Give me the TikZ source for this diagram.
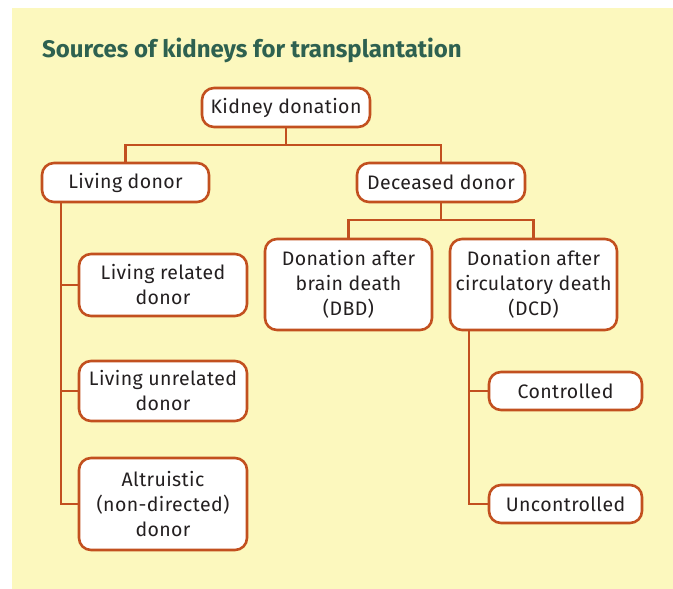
\documentclass[tikz,border=0pt]{standalone}
\usepackage{fontspec}
\setmainfont{Fira Sans}
\definecolor{bgyellow}{HTML}{FCF8BE}
\definecolor{edgeorange}{HTML}{C2501F}
\definecolor{titlegreen}{HTML}{2E6150}
\definecolor{textdark}{HTML}{231F20}
\begin{document}
\begin{tikzpicture}[x=1pt,y=-1pt,
  box/.style={draw=edgeorange, line width=2.6pt, fill=white, rounded corners=12pt,
    align=center, text=textdark, inner sep=0pt,
    font=\addfontfeatures{LetterSpace=2}\fontsize{19.5}{25}\selectfont},
  link/.style={draw=edgeorange, line width=2.6pt}]
\useasboundingbox (0,0) rectangle (673,589);
\fill[bgyellow] (12,8) rectangle (673,589);
\node[anchor=base west, text=titlegreen, font=\fontsize{24}{28}\bfseries, inner sep=0pt] (title) at (42,57) {Sources of kidneys for transplantation};
\node[box, minimum width=168pt, minimum height=39pt] (kd) at (286,107.5) {Kidney donation};
\node[box, minimum width=167pt, minimum height=39pt] (living) at (125.5,182.5) {Living donor};
\node[box, minimum width=168pt, minimum height=39pt] (deceased) at (441,182.5) {Deceased donor};
\node[box, minimum width=168pt, minimum height=62pt] (related) at (163,285) {Living related\\donor};
\node[box, minimum width=168pt, minimum height=60pt] (unrelated) at (163,391) {Living unrelated\\donor};
\node[box, minimum width=168pt, minimum height=92pt] (altruistic) at (163,504) {Altruistic\\(non-directed)\\donor};
\node[box, minimum width=167pt, minimum height=91pt] (dbd) at (348.5,284.5) {Donation after\\brain death\\(DBD)};
\node[box, minimum width=167pt, minimum height=91pt] (dcd) at (533.5,284.5) {Donation after\\circulatory death\\(DCD)};
\node[box, minimum width=153pt, minimum height=38pt] (controlled) at (565.5,391) {Controlled};
\node[box, minimum width=153pt, minimum height=38pt] (uncontrolled) at (565.5,504) {Uncontrolled};
\coordinate (j1) at (286,145);
\coordinate (j2) at (441,220);
\coordinate (lt) at (61,0);
\coordinate (rt) at (469,0);
\draw[link] (kd.south) -- (j1);
\draw[link] (living.north) |- (j1) -| (deceased.north);
\draw[link] (deceased.south) -- (j2);
\draw[link] (dbd.north) |- (j2) -| (dcd.north);
\draw[link] (living.south -| lt) |- (altruistic.west);
\draw[link] (lt |- related.west) -- (related.west);
\draw[link] (lt |- unrelated.west) -- (unrelated.west);
\draw[link] (dcd.south -| rt) |- (uncontrolled.west);
\draw[link] (rt |- controlled.west) -- (controlled.west);
\end{tikzpicture}
\end{document}
